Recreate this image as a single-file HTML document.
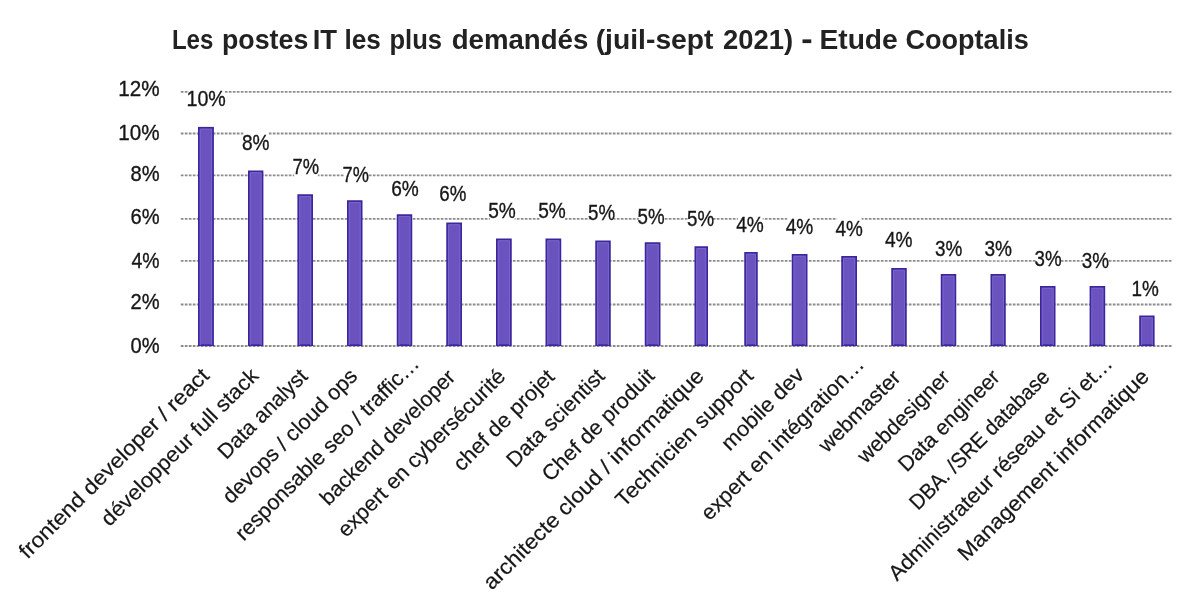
<!DOCTYPE html>
<html><head><meta charset="utf-8"><title>Les postes IT les plus demandés</title>
<style>
html,body{margin:0;padding:0;background:#fff;}
body{width:1200px;height:613px;overflow:hidden;}
svg{display:block;will-change:transform;}
text{font-family:"Liberation Sans", sans-serif;fill:#161616;}
.t{font-weight:bold;font-size:27.2px;fill:#222;}
.n{font-size:22.8px;stroke:#161616;stroke-width:0.35px;}
.x{font-size:21.4px;stroke:#161616;stroke-width:0.2px;}
</style></head><body>
<svg width="1200" height="613" viewBox="0 0 1200 613">
<rect width="1200" height="613" fill="#fff"/>
<g stroke="#8c8c8c" stroke-width="1.8" stroke-dasharray="2.7 1.3" fill="none">
<line x1="180.8" y1="91.9" x2="1172.3" y2="91.9"/>
<line x1="180.8" y1="133.5" x2="1172.3" y2="133.5"/>
<line x1="180.8" y1="175.3" x2="1172.3" y2="175.3"/>
<line x1="180.8" y1="218.8" x2="1172.3" y2="218.8"/>
<line x1="180.8" y1="260.8" x2="1172.3" y2="260.8"/>
<line x1="180.8" y1="304.5" x2="1172.3" y2="304.5"/>
<line x1="180.8" y1="346.0" x2="1172.3" y2="346.0"/>
</g>
<g fill="#6a53be" stroke="#3d259e" stroke-width="1.7">
<rect x="198.85" y="127.75" width="14.20" height="217.45"/>
<rect x="248.85" y="171.35" width="13.70" height="173.85"/>
<rect x="298.25" y="195.10" width="13.90" height="150.10"/>
<rect x="347.85" y="201.10" width="13.80" height="144.10"/>
<rect x="397.60" y="215.10" width="13.80" height="130.10"/>
<rect x="447.10" y="223.35" width="14.05" height="121.85"/>
<rect x="496.85" y="239.35" width="14.05" height="105.85"/>
<rect x="546.35" y="239.35" width="14.05" height="105.85"/>
<rect x="596.10" y="241.35" width="13.80" height="103.85"/>
<rect x="645.60" y="243.10" width="14.05" height="102.10"/>
<rect x="695.35" y="247.10" width="11.80" height="98.10"/>
<rect x="745.10" y="252.85" width="11.80" height="92.35"/>
<rect x="792.60" y="254.85" width="14.05" height="90.35"/>
<rect x="842.10" y="256.85" width="14.05" height="88.35"/>
<rect x="892.10" y="268.85" width="13.80" height="76.35"/>
<rect x="941.60" y="274.85" width="13.80" height="70.35"/>
<rect x="991.35" y="274.85" width="13.55" height="70.35"/>
<rect x="1040.85" y="286.85" width="13.80" height="58.35"/>
<rect x="1090.45" y="286.85" width="13.90" height="58.35"/>
<rect x="1140.05" y="316.35" width="13.70" height="28.85"/>
</g>
<g fill="none" stroke="#7765cb" stroke-width="1">
<path d="M200.30 345.20V129.20H211.60V345.20"/>
<path d="M250.30 345.20V172.80H261.10V345.20"/>
<path d="M299.70 345.20V196.55H310.70V345.20"/>
<path d="M349.30 345.20V202.55H360.20V345.20"/>
<path d="M399.05 345.20V216.55H409.95V345.20"/>
<path d="M448.55 345.20V224.80H459.70V345.20"/>
<path d="M498.30 345.20V240.80H509.45V345.20"/>
<path d="M547.80 345.20V240.80H558.95V345.20"/>
<path d="M597.55 345.20V242.80H608.45V345.20"/>
<path d="M647.05 345.20V244.55H658.20V345.20"/>
<path d="M696.80 345.20V248.55H705.70V345.20"/>
<path d="M746.55 345.20V254.30H755.45V345.20"/>
<path d="M794.05 345.20V256.30H805.20V345.20"/>
<path d="M843.55 345.20V258.30H854.70V345.20"/>
<path d="M893.55 345.20V270.30H904.45V345.20"/>
<path d="M943.05 345.20V276.30H953.95V345.20"/>
<path d="M992.80 345.20V276.30H1003.45V345.20"/>
<path d="M1042.30 345.20V288.30H1053.20V345.20"/>
<path d="M1091.90 345.20V288.30H1102.90V345.20"/>
<path d="M1141.50 345.20V317.80H1152.30V345.20"/>
</g>
<g fill="#fff">
<rect x="189.10" y="87.10" width="35.55" height="23.7"/>
<rect x="243.60" y="131.00" width="24.80" height="23.7"/>
<rect x="294.10" y="154.75" width="23.80" height="23.7"/>
<rect x="344.10" y="162.75" width="23.55" height="23.7"/>
<rect x="392.85" y="176.75" width="24.80" height="23.7"/>
<rect x="440.85" y="182.25" width="24.30" height="23.7"/>
<rect x="489.85" y="199.00" width="24.80" height="23.7"/>
<rect x="539.85" y="199.00" width="24.80" height="23.7"/>
<rect x="589.60" y="201.00" width="24.30" height="23.7"/>
<rect x="639.10" y="204.75" width="24.30" height="23.7"/>
<rect x="688.60" y="206.80" width="24.30" height="23.7"/>
<rect x="737.85" y="212.80" width="24.80" height="23.7"/>
<rect x="787.35" y="214.80" width="24.80" height="23.7"/>
<rect x="837.10" y="216.80" width="24.55" height="23.7"/>
<rect x="886.60" y="228.40" width="24.80" height="23.7"/>
<rect x="936.60" y="236.60" width="24.55" height="23.7"/>
<rect x="986.10" y="236.60" width="24.80" height="23.7"/>
<rect x="1036.10" y="246.50" width="24.30" height="23.7"/>
<rect x="1083.35" y="248.50" width="24.55" height="23.7"/>
<rect x="1134.10" y="276.50" width="23.55" height="23.7"/>
</g>
<g>
<text class="t" x="171.95" y="48.8" textLength="41.35" lengthAdjust="spacingAndGlyphs">Les</text>
<text class="t" x="221.95" y="48.8" textLength="86.35" lengthAdjust="spacingAndGlyphs">postes</text>
<text class="t" x="312.70" y="48.8" textLength="24.35" lengthAdjust="spacingAndGlyphs">IT</text>
<text class="t" x="344.45" y="48.8" textLength="36.35" lengthAdjust="spacingAndGlyphs">les</text>
<text class="t" x="389.45" y="48.8" textLength="52.60" lengthAdjust="spacingAndGlyphs">plus</text>
<text class="t" x="451.70" y="48.8" textLength="136.60" lengthAdjust="spacingAndGlyphs">demandés</text>
<text class="t" x="595.70" y="48.8" textLength="117.85" lengthAdjust="spacingAndGlyphs">(juil-sept</text>
<text class="t" x="722.95" y="48.8" textLength="70.10" lengthAdjust="spacingAndGlyphs">2021)</text>
<rect x="802.5" y="39.4" width="8.75" height="3.7" fill="#222"/>
<text class="t" x="819.45" y="48.8" textLength="78.35" lengthAdjust="spacingAndGlyphs">Etude</text>
<text class="t" x="905.45" y="48.8" textLength="123.35" lengthAdjust="spacingAndGlyphs">Cooptalis</text>
<text class="n" x="118.20" y="96.4" textLength="41.35" lengthAdjust="spacingAndGlyphs">12%</text>
<text class="n" x="118.20" y="140.0" textLength="41.35" lengthAdjust="spacingAndGlyphs">10%</text>
<text class="n" x="130.45" y="181.4" textLength="29.10" lengthAdjust="spacingAndGlyphs">8%</text>
<text class="n" x="130.45" y="224.3" textLength="29.10" lengthAdjust="spacingAndGlyphs">6%</text>
<text class="n" x="131.45" y="267.5" textLength="28.10" lengthAdjust="spacingAndGlyphs">4%</text>
<text class="n" x="130.45" y="309.3" textLength="29.10" lengthAdjust="spacingAndGlyphs">2%</text>
<text class="n" x="130.45" y="352.8" textLength="29.10" lengthAdjust="spacingAndGlyphs">0%</text>
<text class="n" x="186.50" y="106.1" textLength="39.35" lengthAdjust="spacingAndGlyphs">10%</text>
<text class="n" x="242.00" y="150.0" textLength="27.60" lengthAdjust="spacingAndGlyphs">8%</text>
<text class="n" x="292.50" y="173.75" textLength="26.60" lengthAdjust="spacingAndGlyphs">7%</text>
<text class="n" x="342.50" y="181.75" textLength="26.35" lengthAdjust="spacingAndGlyphs">7%</text>
<text class="n" x="391.25" y="195.75" textLength="27.60" lengthAdjust="spacingAndGlyphs">6%</text>
<text class="n" x="439.25" y="201.25" textLength="27.10" lengthAdjust="spacingAndGlyphs">6%</text>
<text class="n" x="488.25" y="218.0" textLength="27.60" lengthAdjust="spacingAndGlyphs">5%</text>
<text class="n" x="538.25" y="218.0" textLength="27.60" lengthAdjust="spacingAndGlyphs">5%</text>
<text class="n" x="588.00" y="220.0" textLength="27.10" lengthAdjust="spacingAndGlyphs">5%</text>
<text class="n" x="637.50" y="223.75" textLength="27.10" lengthAdjust="spacingAndGlyphs">5%</text>
<text class="n" x="687.00" y="225.8" textLength="27.10" lengthAdjust="spacingAndGlyphs">5%</text>
<text class="n" x="736.25" y="231.8" textLength="27.60" lengthAdjust="spacingAndGlyphs">4%</text>
<text class="n" x="785.75" y="233.8" textLength="27.60" lengthAdjust="spacingAndGlyphs">4%</text>
<text class="n" x="835.50" y="235.8" textLength="27.35" lengthAdjust="spacingAndGlyphs">4%</text>
<text class="n" x="885.00" y="247.4" textLength="27.60" lengthAdjust="spacingAndGlyphs">4%</text>
<text class="n" x="935.00" y="255.6" textLength="27.35" lengthAdjust="spacingAndGlyphs">3%</text>
<text class="n" x="984.50" y="255.6" textLength="27.60" lengthAdjust="spacingAndGlyphs">3%</text>
<text class="n" x="1034.50" y="265.5" textLength="27.10" lengthAdjust="spacingAndGlyphs">3%</text>
<text class="n" x="1081.75" y="267.5" textLength="27.35" lengthAdjust="spacingAndGlyphs">3%</text>
<text class="n" x="1131.50" y="295.5" textLength="27.35" lengthAdjust="spacingAndGlyphs">1%</text>
</g>
<g class="x" text-anchor="end">
<text transform="translate(210.35 376.95) rotate(-45)" textLength="258.46" lengthAdjust="spacingAndGlyphs">frontend developer / react</text>
<text transform="translate(259.76 377.06) rotate(-45)" textLength="212.36" lengthAdjust="spacingAndGlyphs">développeur full stack</text>
<text transform="translate(308.82 377.52) rotate(-45)" textLength="116.83" lengthAdjust="spacingAndGlyphs">Data analyst</text>
<text transform="translate(358.53 377.33) rotate(-45)" textLength="180.19" lengthAdjust="spacingAndGlyphs">devops / cloud ops</text>
<text transform="translate(420.39 364.99) rotate(-45)" textLength="249.98" lengthAdjust="spacingAndGlyphs">responsable seo / traffic…</text>
<text transform="translate(456.55 378.35) rotate(-45)" textLength="181.11" lengthAdjust="spacingAndGlyphs">backend developer</text>
<text transform="translate(506.71 377.71) rotate(-45)" textLength="227.07" lengthAdjust="spacingAndGlyphs">expert en cybersécurité</text>
<text transform="translate(555.82 378.12) rotate(-45)" textLength="133.16" lengthAdjust="spacingAndGlyphs">chef de projet</text>
<text transform="translate(605.98 377.48) rotate(-45)" textLength="128.64" lengthAdjust="spacingAndGlyphs">Data scientist</text>
<text transform="translate(655.74 377.24) rotate(-45)" textLength="148.93" lengthAdjust="spacingAndGlyphs">Chef de produit</text>
<text transform="translate(705.25 377.25) rotate(-45)" textLength="301.88" lengthAdjust="spacingAndGlyphs">architecte cloud / informatique</text>
<text transform="translate(754.51 377.51) rotate(-45)" textLength="184.43" lengthAdjust="spacingAndGlyphs">Technicien support</text>
<text transform="translate(805.27 376.27) rotate(-45)" textLength="106.65" lengthAdjust="spacingAndGlyphs">mobile dev</text>
<text transform="translate(865.38 365.68) rotate(-45)" textLength="220.35" lengthAdjust="spacingAndGlyphs">expert en intégration…</text>
<text transform="translate(901.79 378.79) rotate(-45)" textLength="105.80" lengthAdjust="spacingAndGlyphs">webmaster</text>
<text transform="translate(951.30 378.80) rotate(-45)" textLength="121.00" lengthAdjust="spacingAndGlyphs">webdesigner</text>
<text transform="translate(1001.06 378.56) rotate(-45)" textLength="133.23" lengthAdjust="spacingAndGlyphs">Data engineer</text>
<text transform="translate(1050.82 378.32) rotate(-45)" textLength="187.68" lengthAdjust="spacingAndGlyphs">DBA. /SRE database</text>
<text transform="translate(1113.73 364.93) rotate(-45)" textLength="306.48" lengthAdjust="spacingAndGlyphs">Administrateur réseau et Si et…</text>
<text transform="translate(1150.34 377.84) rotate(-45)" textLength="260.30" lengthAdjust="spacingAndGlyphs">Management informatique</text>
</g>
</svg>
</body></html>
